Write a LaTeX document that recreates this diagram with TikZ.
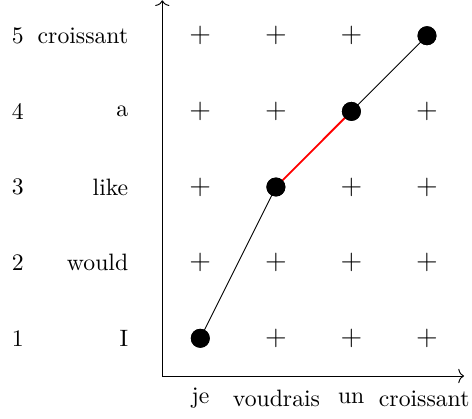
\documentclass[tikz,border=0pt]{standalone}
\usetikzlibrary{arrows.meta}
\begin{document}
\begin{tikzpicture}[x=0.42194pt,y=-0.42194pt,
  plusmark/.style={inner sep=0pt,font=\large},
  dot/.style={circle,fill=black,inner sep=0pt,minimum size=8pt},
  axis/.style={-{To[width=6pt,length=2.4pt]},line width=0.4pt},
  wordlab/.style={anchor=east},
  numlab/.style={anchor=center},
  botlab/.style={anchor=center},
  align/.style={line width=0.4pt},
  redlink/.style={red,line width=0.8pt}]
\useasboundingbox (0,0) rectangle (472,419);
% axes
\coordinate (O) at (162.3,376);
\coordinate (Xend) at (464,376);
\coordinate (Yend) at (162.3,0.3);
\draw[axis] (O) -- (Xend);
\draw[axis] (O) -- (Yend);
% row labels
\node[numlab] (n1) at (17.8,338.3) {1};
\node[numlab] (n2) at (17.8,262.6) {2};
\node[numlab] (n3) at (17.8,187.0) {3};
\node[numlab] (n4) at (17.8,111.4) {4};
\node[numlab] (n5) at (17.8,35.7) {5};
\node[wordlab] (w1) at (136.6,338.3) {I};
\node[wordlab] (w2) at (136.6,262.6) {would};
\node[wordlab] (w3) at (136.6,187.0) {like};
\node[wordlab] (w4) at (136.6,111.4) {a};
\node[wordlab] (w5) at (136.6,35.7) {croissant};
% column labels
\node[botlab] (c1) at (200.5,398.6) {je};
\node[botlab] (c2) at (276.5,398.6) {voudrais};
\node[botlab] (c3) at (351.2,398.6) {un};
\node[botlab] (c4) at (424.2,398.6) {croissant};
% grid marks
\node[plusmark] (p12) at (275.9,338.3) {$+$};
\node[plusmark] (p13) at (351.4,338.3) {$+$};
\node[plusmark] (p14) at (427.0,338.3) {$+$};
\node[plusmark] (p21) at (200.3,262.6) {$+$};
\node[plusmark] (p22) at (275.9,262.6) {$+$};
\node[plusmark] (p23) at (351.4,262.6) {$+$};
\node[plusmark] (p24) at (427.0,262.6) {$+$};
\node[plusmark] (p31) at (200.3,187.0) {$+$};
\node[plusmark] (p33) at (351.4,187.0) {$+$};
\node[plusmark] (p34) at (427.0,187.0) {$+$};
\node[plusmark] (p41) at (200.3,111.4) {$+$};
\node[plusmark] (p42) at (275.9,111.4) {$+$};
\node[plusmark] (p44) at (427.0,111.4) {$+$};
\node[plusmark] (p51) at (200.3,35.7) {$+$};
\node[plusmark] (p52) at (275.9,35.7) {$+$};
\node[plusmark] (p53) at (351.4,35.7) {$+$};
% alignment path
\node[dot] (d11) at (200.3,338.3) {};
\node[dot] (d32) at (275.9,187.0) {};
\node[dot] (d43) at (351.4,111.4) {};
\node[dot] (d54) at (427.0,35.7) {};
\draw[align] (d11.center) -- (d32.center);
\draw[redlink] (d32.center) -- (d43.center);
\draw[align] (d43.center) -- (d54.center);
\node[dot] at (d11) {};
\node[dot] at (d32) {};
\node[dot] at (d43) {};
\node[dot] at (d54) {};
\end{tikzpicture}
\end{document}
